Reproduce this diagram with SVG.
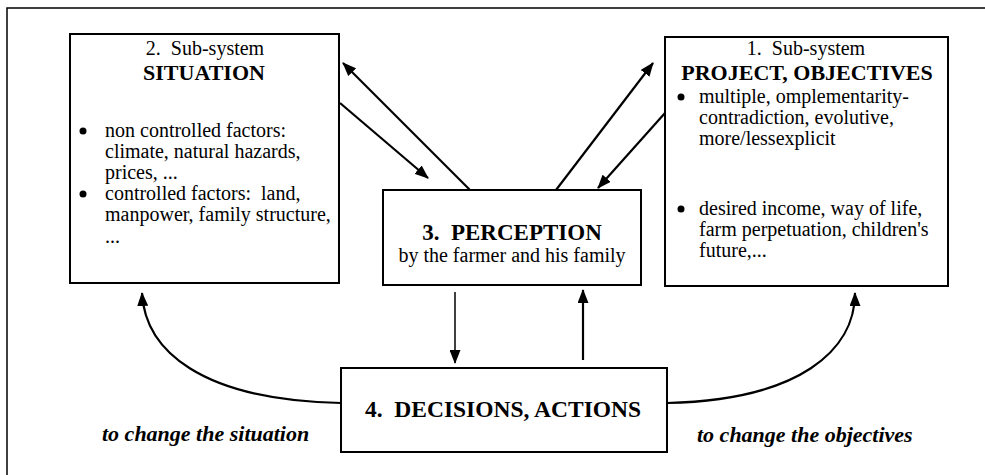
<svg xmlns="http://www.w3.org/2000/svg" width="985" height="475" viewBox="0 0 985 475">
<style>
.box{fill:#fff;stroke:#000;stroke-width:2}
.t{font-family:"Liberation Serif","Times New Roman",serif;font-size:20px;fill:#000}
.h{font-family:"Liberation Serif","Times New Roman",serif;font-size:22px;font-weight:bold;fill:#000}
.big{font-family:"Liberation Serif","Times New Roman",serif;font-size:23.5px;font-weight:bold;fill:#000}
.it{font-family:"Liberation Serif","Times New Roman",serif;font-size:22px;font-weight:bold;font-style:italic;fill:#000}
.ln{fill:none;stroke:#000;stroke-width:2.2}
.thin{fill:none;stroke:#000;stroke-width:1.5}
</style>
<defs>
<marker id="ahb" markerWidth="14" markerHeight="11" refX="13" refY="5.5" orient="auto" markerUnits="userSpaceOnUse" viewBox="0 0 14 11">
<path d="M0,0 L14,5.5 L0,11 Z" fill="#000"/>
</marker>
</defs>
<g id="frame">
<path d="M7,475 L7,8 L985,8" fill="none" stroke="#000" stroke-width="1.5"/>
</g>
<g id="node-situation">
<rect class="box" x="70" y="34" width="269" height="249"/>
<text class="t" x="205" y="55" text-anchor="middle">2.&#160; Sub-system</text>
<text class="h" x="204" y="80" text-anchor="middle">SITUATION</text>
<circle cx="83" cy="131" r="3.5"/>
<text class="t" x="105" y="137">non controlled factors:</text>
<text class="t" x="105" y="158">climate, natural hazards,</text>
<text class="t" x="105" y="179">prices, ...</text>
<circle cx="83" cy="194" r="3.5"/>
<text class="t" x="105" y="200">controlled factors:&#160; land,</text>
<text class="t" x="105" y="221">manpower, family structure,</text>
<text class="t" x="105" y="243">...</text>
</g>
<g id="node-project">
<rect class="box" x="665" y="37" width="283" height="249"/>
<text class="t" x="806" y="55" text-anchor="middle">1.&#160; Sub-system</text>
<text class="h" x="807" y="80" text-anchor="middle">PROJECT, OBJECTIVES</text>
<circle cx="681" cy="97" r="3.5"/>
<text class="t" x="699" y="103">multiple, omplementarity-</text>
<text class="t" x="699" y="124">contradiction, evolutive,</text>
<text class="t" x="699" y="145">more/lessexplicit</text>
<circle cx="681" cy="209" r="3.5"/>
<text class="t" x="699" y="215">desired income, way of life,</text>
<text class="t" x="699" y="236">farm perpetuation, children's</text>
<text class="t" x="699" y="257">future,...</text>
</g>
<g id="node-perception">
<rect class="box" x="383" y="190" width="258" height="95"/>
<text class="big" x="512" y="240" text-anchor="middle" style="font-size:23px">3.&#160; PERCEPTION</text>
<text class="t" x="512" y="262" text-anchor="middle">by the farmer and his family</text>
</g>
<g id="node-decisions">
<rect class="box" x="341" y="368" width="326" height="84"/>
<text class="big" x="503" y="417" text-anchor="middle">4.&#160; DECISIONS, ACTIONS</text>
</g>
<g id="labels">
<text class="it" x="102" y="441">to change the situation</text>
<text class="it" x="697" y="442">to change the objectives</text>
</g>
<g id="connectors">
<line class="ln" x1="470" y1="190" x2="343" y2="63" marker-end="url(#ahb)"/>
<line class="ln" x1="340" y1="103" x2="428" y2="178" marker-end="url(#ahb)"/>
<line class="ln" x1="556" y1="190" x2="653" y2="63" marker-end="url(#ahb)"/>
<line class="ln" x1="665" y1="113" x2="598" y2="188" marker-end="url(#ahb)"/>
<line class="thin" x1="455" y1="292" x2="455" y2="363" marker-end="url(#ahb)"/>
<line class="ln" x1="583" y1="360" x2="583" y2="290" marker-end="url(#ahb)"/>
<path class="ln" d="M341,403 C200,400 145,350 142,293" marker-end="url(#ahb)"/>
<path class="ln" d="M667,403 C800,400 855,350 855,293" marker-end="url(#ahb)"/>
</g>
</svg>
